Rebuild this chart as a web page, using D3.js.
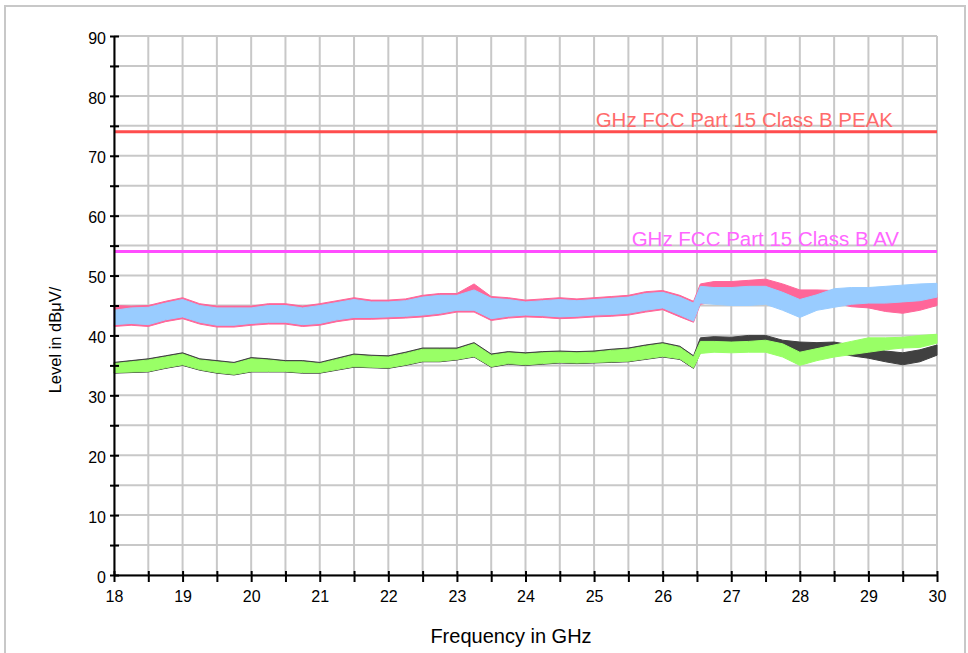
<!DOCTYPE html>
<html>
<head>
<meta charset="utf-8">
<script src="https://cdn.jsdelivr.net/npm/d3@7"></script>
<style>
  body { margin: 0; background: #fff; }
  text { font-family: "Liberation Sans", Arial, sans-serif; }
</style>
</head>
<body>
<div id="chart"></div>
<script>
// frequency points in GHz (band edges read at 0.25 GHz, plus the jump at 26.5)
var freqs = [18, 18.25, 18.5, 18.75, 19, 19.25, 19.5, 19.75, 20, 20.25, 20.5, 20.75,
  21, 21.25, 21.5, 21.75, 22, 22.25, 22.5, 22.75, 23, 23.25, 23.5, 23.75,
  24, 24.25, 24.5, 24.75, 25, 25.25, 25.5, 25.75, 26, 26.25, 26.45, 26.55,
  26.75, 27, 27.25, 27.5, 27.75, 28, 28.25, 28.5, 28.75, 29, 29.25, 29.5, 29.75, 30];

// peak trace 1 (pink) low / high in dBuV
var peakPinkLo = [41.5, 41.7, 41.5, 42.3, 42.8, 41.9, 41.4, 41.4, 41.7, 41.9, 41.9, 41.5,
  41.7, 42.3, 42.7, 42.7, 42.8, 42.9, 43.1, 43.4, 43.9, 43.9, 42.5, 42.9,
  43.1, 43.0, 42.8, 42.9, 43.1, 43.2, 43.4, 43.9, 44.3, 43.1, 42.2, 45.2,
  45.6, 45.6, 45.8, 45.8, 45.8, 45.6, 45.4, 45.4, 44.8, 44.6, 44.0, 43.7, 44.2, 45.0];
var peakPinkHi = [45.0, 44.9, 45.0, 45.7, 46.3, 45.3, 44.9, 44.9, 44.9, 45.3, 45.3, 44.9,
  45.3, 45.8, 46.3, 45.9, 45.9, 46.1, 46.7, 47.0, 47.0, 48.6, 46.5, 46.3,
  45.9, 46.1, 46.3, 46.1, 46.3, 46.5, 46.7, 47.3, 47.5, 46.7, 45.7, 48.6,
  49.0, 49.0, 49.2, 49.4, 48.6, 47.6, 47.6, 47.5, 46.8, 46.2, 45.8, 45.6, 46.2, 47.0];

// peak trace 2 (light blue)
var peakBlueLo = [41.8, 42.0, 41.8, 42.6, 43.1, 42.2, 41.7, 41.7, 42.0, 42.2, 42.2, 41.8,
  42.0, 42.6, 43.0, 43.0, 43.1, 43.2, 43.4, 43.7, 44.2, 44.2, 42.8, 43.2,
  43.4, 43.3, 43.1, 43.2, 43.4, 43.5, 43.7, 44.2, 44.6, 43.4, 42.4, 45.4,
  45.2, 45.0, 45.0, 45.2, 44.2, 43.0, 44.2, 44.7, 45.2, 45.4, 45.4, 45.6, 45.8, 46.4];
var peakBlueHi = [44.2, 44.6, 44.7, 45.4, 46.0, 45.0, 44.6, 44.6, 44.6, 45.0, 45.0, 44.6,
  45.0, 45.5, 46.0, 45.6, 45.6, 45.8, 46.4, 46.7, 46.7, 47.6, 46.2, 46.0,
  45.6, 45.8, 46.0, 45.8, 46.0, 46.2, 46.4, 47.0, 47.2, 46.4, 45.4, 48.2,
  48.0, 48.0, 48.2, 48.2, 47.2, 46.0, 46.8, 47.8, 48.0, 48.0, 48.2, 48.4, 48.6, 48.7];

// average trace 1 (dark grey)
var avgGreyLo = [33.7, 33.8, 33.9, 34.5, 35.0, 34.2, 33.7, 33.4, 33.9, 33.9, 33.9, 33.7,
  33.7, 34.2, 34.7, 34.6, 34.5, 35.0, 35.6, 35.6, 35.9, 36.4, 34.7, 35.2,
  35.0, 35.2, 35.4, 35.3, 35.4, 35.5, 35.6, 36.0, 36.4, 36.0, 34.5, 37.1,
  37.8, 38.4, 38.4, 38.4, 37.2, 37.2, 37.0, 37.2, 36.6, 36.2, 35.6, 35.1, 35.6, 36.7];
var avgGreyHi = [35.5, 35.8, 36.1, 36.6, 37.1, 36.1, 35.8, 35.5, 36.3, 36.1, 35.8, 35.8,
  35.5, 36.2, 36.9, 36.7, 36.6, 37.2, 37.9, 37.9, 37.9, 38.8, 36.9, 37.3,
  37.1, 37.3, 37.4, 37.3, 37.4, 37.7, 37.9, 38.4, 38.8, 38.2, 36.6, 39.6,
  39.8, 39.7, 40.0, 40.0, 39.2, 38.9, 38.8, 38.9, 38.4, 37.9, 37.4, 37.1, 37.6, 38.4];

// average trace 2 (green)
var avgGreenLo = [33.8, 33.9, 34.0, 34.6, 35.1, 34.3, 33.8, 33.5, 34.0, 34.0, 34.0, 33.8,
  33.8, 34.3, 34.8, 34.7, 34.6, 35.1, 35.7, 35.7, 36.0, 36.5, 34.8, 35.3,
  35.1, 35.3, 35.5, 35.4, 35.5, 35.6, 35.7, 36.1, 36.5, 36.1, 34.6, 37.0,
  37.2, 37.1, 37.2, 37.2, 36.4, 35.0, 35.8, 36.4, 36.8, 37.2, 37.6, 37.9, 38.0, 38.7];
var avgGreenHi = [35.3, 35.6, 35.9, 36.4, 36.9, 35.9, 35.6, 35.3, 36.1, 35.9, 35.6, 35.6,
  35.3, 36.0, 36.7, 36.5, 36.4, 37.0, 37.7, 37.7, 37.7, 38.6, 36.7, 37.1,
  36.9, 37.1, 37.2, 37.1, 37.2, 37.5, 37.7, 38.2, 38.6, 38.0, 36.4, 39.0,
  39.0, 38.9, 39.0, 39.2, 38.6, 37.2, 37.8, 38.4, 39.0, 39.6, 39.6, 39.7, 40.0, 40.2];

// limit lines
var limitNames = ["GHz FCC Part 15 Class B PEAK", "GHz FCC Part 15 Class B AV"];
var limitValues = [74, 54];
var limitColors = ["#ff4d4d", "#ff4dff"];
var limitTextColors = ["#ff6b6b", "#ff66ff"];

var yTickValues = d3.range(0, 91, 5);
var xTickValues = d3.range(18, 30.01, 0.5);

var width = 968, height = 653;
var margin = {left: 114, top: 36, right: 31, bottom: 78};
var plotW = width - margin.left - margin.right;
var plotH = height - margin.top - margin.bottom;

var svg = d3.select("#chart").append("svg")
  .attr("width", width)
  .attr("height", height);

// outer frame
svg.append("rect")
  .attr("x", 5).attr("y", 6)
  .attr("width", 960).attr("height", 700)
  .attr("fill", "none")
  .attr("stroke", "#c8c8c8")
  .attr("stroke-width", 2);

var g = svg.append("g").attr("transform", "translate(" + margin.left + "," + margin.top + ")");

var x = d3.scaleLinear().domain([18, 30]).range([0, plotW]);
var y = d3.scaleLinear().domain([0, 90]).range([plotH, 0]);

// grid
g.append("g").selectAll("line.vg")
  .data(xTickValues)
  .enter().append("line")
  .attr("x1", function(d) { return x(d); })
  .attr("x2", function(d) { return x(d); })
  .attr("y1", 0).attr("y2", plotH)
  .attr("stroke", "#c8c8c8").attr("stroke-width", 2);

g.append("g").selectAll("line.hg")
  .data(yTickValues)
  .enter().append("line")
  .attr("x1", 0).attr("x2", plotW)
  .attr("y1", function(d) { return y(d); })
  .attr("y2", function(d) { return y(d); })
  .attr("stroke", "#c8c8c8").attr("stroke-width", 2);

// limit lines
limitValues.forEach(function(v, i) {
  g.append("line")
    .attr("x1", 0).attr("x2", plotW)
    .attr("y1", y(v)).attr("y2", y(v))
    .attr("stroke", limitColors[i])
    .attr("stroke-width", 3);
});
g.append("text")
  .attr("x", 779).attr("y", y(limitValues[0]) - 5)
  .attr("text-anchor", "end")
  .attr("fill", limitTextColors[0])
  .style("font-size", "20.5px")
  .text(limitNames[0]);
g.append("text")
  .attr("x", 785).attr("y", y(limitValues[1]) - 6)
  .attr("text-anchor", "end")
  .attr("fill", limitTextColors[1])
  .style("font-size", "20.5px")
  .text(limitNames[1]);

// traces drawn as bands between the low and high readings
function band(lo, hi, color) {
  var rows = freqs.map(function(f, i) { return {f: f, lo: lo[i], hi: hi[i]}; });
  var area = d3.area()
    .x(function(d) { return x(d.f); })
    .y0(function(d) { return y(d.lo); })
    .y1(function(d) { return y(d.hi); });
  g.append("path")
    .datum(rows)
    .attr("d", area)
    .attr("fill", color)
    .attr("stroke", color)
    .attr("stroke-width", 1);
}
band(peakPinkLo, peakPinkHi, "#ff6699");
band(peakBlueLo, peakBlueHi, "#99ccff");
band(avgGreyLo, avgGreyHi, "#404040");
band(avgGreenLo, avgGreenHi, "#99ff66");

// axes
var yAxis = g.append("g")
  .call(d3.axisLeft(y).tickValues(yTickValues).tickSize(0).tickPadding(8)
    .tickFormat(function(d) { return d % 10 === 0 ? d : ""; }));
yAxis.select(".domain").attr("stroke", "#000").attr("stroke-width", 2);
yAxis.selectAll(".tick line").attr("x1", -4).attr("x2", 5)
  .attr("stroke", "#000").attr("stroke-width", 2);
yAxis.selectAll(".tick text").style("font-size", "16px").attr("fill", "#000")
  .attr("dy", "0.45em");

var xAxis = g.append("g")
  .attr("transform", "translate(0," + plotH + ")")
  .call(d3.axisBottom(x).tickValues(xTickValues).tickSize(0).tickPadding(16)
    .tickFormat(function(d) { return d % 1 === 0 ? d : ""; }));
xAxis.select(".domain").attr("stroke", "#000").attr("stroke-width", 2);
xAxis.selectAll(".tick line").attr("y1", -4).attr("y2", 7)
  .attr("stroke", "#000").attr("stroke-width", 2);
xAxis.selectAll(".tick text").style("font-size", "16px").attr("fill", "#000");

// axis titles
svg.append("text")
  .attr("transform", "translate(61,340) rotate(-90)")
  .attr("text-anchor", "middle")
  .style("font-size", "16.5px")
  .text("Level in dBμV/");

svg.append("text")
  .attr("x", 511).attr("y", 643)
  .attr("text-anchor", "middle")
  .style("font-size", "20px")
  .text("Frequency in GHz");
</script>
</body>
</html>
